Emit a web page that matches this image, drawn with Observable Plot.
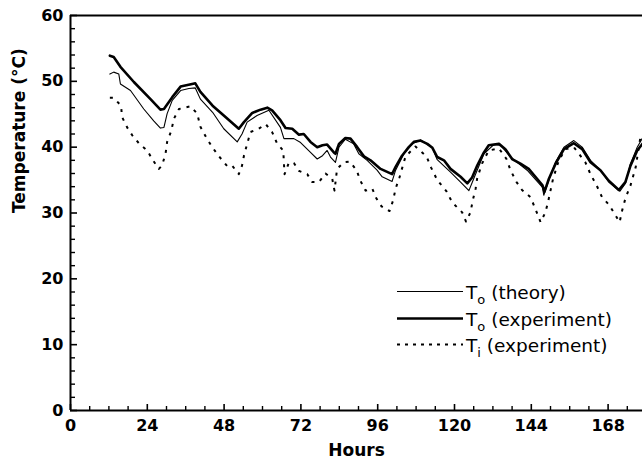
<!DOCTYPE html>
<html>
<head>
<meta charset="utf-8">
<script src="https://cdn.jsdelivr.net/npm/d3@7"></script>
<script src="https://cdn.jsdelivr.net/npm/@observablehq/plot@0.6"></script>
<style>
  html, body { margin: 0; padding: 0; background: #fff; }
  #chart { position: relative; width: 642px; height: 462px; }
</style>
</head>
<body>
<div id="chart"></div>
<script>
// ---- Data ----
const hoursTheory = [12.3,13.5,15.1,15.6,18.75,22.9,26,28.1,29.2,30.2,31.8,34.4,37,39,40.6,44.4,47.9,52.1,53.6,55.2,58.3,62,65.6,66.7,69.8,71.9,75,77.1,78.75,80.2,81.25,82.8,83.9,85.9,88.5,90.1,92.7,95.8,97.4,100.5,101.6,104.2,106.8,109.4,113.1,114.6,118.75,121.9,124.5,126,129.2,132.3,134.4,137.5,142.7,147.5,147.9,149.5,151.6,154.2,157.3,159.9,162.5,165.6,168.2,171.7,173.4,175,177.1,178.75];
const tempTheory  = [51.1,51.4,51.1,49.6,48.6,45.8,44.0,42.9,43.0,45.1,47.1,48.6,48.9,49.0,47.3,45.3,42.8,40.8,42.0,43.8,44.8,45.6,43.0,41.3,41.3,40.7,39.2,38.2,38.7,39.5,38.5,37.7,40.0,41.2,40.5,39.0,38.0,36.5,35.5,34.8,36.5,39.0,40.5,41.1,39.9,38.1,36.2,34.7,33.4,35.2,39.0,40.4,40.3,38.5,36.5,33.9,32.7,35.0,37.8,40.0,41.0,40.0,38.0,36.5,34.7,33.3,34.5,37.5,40.0,41.4];

const hoursOuterExp = [12.3,13.5,15.6,19.8,25,28.1,29.2,31.8,34.4,38,39,40.6,44.4,47.9,52.6,54.2,56.8,59.4,61.5,63,65.6,67.2,69.3,71.4,72.9,75,77.1,78.75,80.2,82.3,82.8,83.9,85.9,87.5,89.6,91.7,93.75,96.9,100.5,101.6,103.6,105.7,107.3,109.4,111.5,113.1,114.6,116.7,118.75,121.9,124,125.5,127.1,129.2,130.7,133.9,135.9,138,140.6,143.2,145.8,147.5,148.1,149.5,151.6,154.2,157.3,159.9,162.5,165.6,168.2,171.35,173.4,175,177.1,178.75];
const tempOuterExp  = [53.9,53.7,52.2,49.9,47.3,45.7,45.8,47.6,49.2,49.6,49.7,48.4,46.3,44.8,42.8,43.8,45.2,45.7,46.0,45.6,44.1,42.9,42.8,41.9,42.0,40.8,40.0,40.3,40.4,39.2,39.0,40.5,41.4,41.3,40.0,38.6,38.0,36.7,35.9,37.0,38.7,40.0,40.8,41.0,40.5,39.9,38.5,38.0,36.7,35.5,34.5,35.4,37.2,39.2,40.3,40.5,39.7,38.2,37.5,36.7,35.2,34.2,33.2,35.2,37.5,39.7,40.6,39.7,37.7,36.5,34.9,33.5,34.7,37.2,39.5,40.5];

const hoursInnerExp = [12.3,13.5,15.8,16.1,17.7,19.3,21.7,24,25.5,27.6,28.6,29.7,30.2,31.5,32.3,33.9,37.5,39.6,40.6,42.5,44.3,46.4,49,50.5,52.6,53.6,54.2,55.2,56.25,58.8,61,63,64.6,66.5,66.7,66.9,68.2,69.8,71.4,74,75.5,77.6,78.75,79.7,81.8,82.5,83.3,85.4,87.3,89.4,90.6,92.2,94.3,95.6,97.2,99.7,100.8,101.6,102.8,104.7,107.8,111.25,112.7,114.6,117.5,119.3,122.4,123.6,125,125.7,126.6,127.1,128.6,130.7,133.9,136.25,137.5,139.4,141.1,143.75,145.3,146.9,148.4,149.2,150,150.8,152.6,154.7,157.3,160.9,162.5,164.4,166.1,168.2,170,171.6,172.4,173.4,175,176.6,178.1];
const tempInnerExp  = [47.5,47.5,46.3,44.6,43.0,41.8,40.4,39.5,38.2,36.7,37.2,39.0,40.8,42.5,44.3,45.8,46.2,45.1,43.1,41.4,40.0,38.6,37.1,37.2,35.9,37.2,38.7,40.5,42.3,42.8,43.5,42.3,40.5,39.5,37.5,35.9,37.6,37.6,36.4,35.9,34.7,34.7,35.4,36.0,35.2,33.4,36.7,37.7,37.8,36.5,34.9,33.4,33.7,32.2,31.0,30.3,31.9,33.7,35.4,38.6,40.1,38.6,36.9,35.0,33.3,31.6,30.1,28.7,30.1,31.9,33.7,35.3,37.5,39.5,39.8,38.2,36.5,34.7,33.5,32.4,30.6,28.6,30.1,31.6,33.4,35.2,38.0,39.7,40.0,37.7,35.9,34.2,32.4,31.3,29.9,28.6,30.4,32.2,34.2,36.9,41.5];

const xMajorTicks = [0, 24, 48, 72, 96, 120, 144, 168];
const xMinorTicks = [6, 12, 18, 30, 36, 42, 54, 60, 66, 78, 84, 90, 102, 108, 114, 126, 132, 138, 150, 156, 162, 174];
const yMajorTicks = [0, 10, 20, 30, 40, 50, 60];
const yMinorTicks = [2,4,6,8,12,14,16,18,22,24,26,28,32,34,36,38,42,44,46,48,52,54,56,58];

const xLabel = "Hours";
const yLabel = "Temperature (°C)";
const legendItems = [
  {main: "T", sub: "o", rest: " (theory)", style: "thin"},
  {main: "T", sub: "o", rest: " (experiment)", style: "thick"},
  {main: "T", sub: "i", rest: " (experiment)", style: "dotted"}
];

// ---- Build tables ----
const theory = hoursTheory.map((h, i) => ({h, t: tempTheory[i]}));
const outer = hoursOuterExp.map((h, i) => ({h, t: tempOuterExp[i]}));
const inner = hoursInnerExp.map((h, i) => ({h, t: tempInnerExp[i]}));

const W = 642, H = 462;
const mTop = 15, mLeft = 70, mRight = 0, mBottom = 52;
const frameW = W - mLeft - mRight, frameH = H - mTop - mBottom;
const font = "DejaVu Sans, Liberation Sans, sans-serif";
const dotted = "3,6";

const plot = Plot.plot({
  width: W, height: H,
  marginTop: mTop, marginLeft: mLeft, marginRight: mRight, marginBottom: mBottom,
  x: {domain: [0, 178.75], axis: null},
  y: {domain: [0, 60], axis: null},
  style: {fontFamily: font, background: "white", overflow: "visible", color: "black"},
  marks: [
    // data lines
    Plot.line(inner, {x: "h", y: "t", stroke: "black", strokeWidth: 2, strokeDasharray: dotted, strokeLinecap: "butt"}),
    Plot.line(theory, {x: "h", y: "t", stroke: "black", strokeWidth: 1.1}),
    Plot.line(outer, {x: "h", y: "t", stroke: "black", strokeWidth: 2.6, strokeLinejoin: "round"}),
    // frame lines
    Plot.ruleY([0], {y: d => d, stroke: "black", strokeWidth: 2}),
    Plot.ruleY([60], {y: d => d, stroke: "black", strokeWidth: 2}),
    Plot.ruleX([0], {x: d => d, stroke: "black", strokeWidth: 2}),
    // inward ticks
    Plot.ruleX(xMajorTicks, {x: d => d, insetTop: frameH - 6, stroke: "black", strokeWidth: 1.6}),
    Plot.ruleX(xMinorTicks, {x: d => d, insetTop: frameH - 4, stroke: "black", strokeWidth: 1.4}),
    Plot.ruleY(yMajorTicks, {y: d => d, insetRight: frameW - 7, stroke: "black", strokeWidth: 1.6}),
    Plot.ruleY(yMinorTicks, {y: d => d, insetRight: frameW - 5, stroke: "black", strokeWidth: 1.4}),
    // tick labels
    Plot.text(xMajorTicks, {x: d => d, text: d => String(d), frameAnchor: "bottom", lineAnchor: "top", dy: 9, fontSize: 16, fontWeight: "bold", fill: "black"}),
    Plot.text(yMajorTicks, {y: d => d, text: d => String(d), frameAnchor: "left", textAnchor: "end", dx: -7, fontSize: 16, fontWeight: "bold", fill: "black"}),
    // axis labels
    Plot.text([xLabel], {text: d => d, frameAnchor: "bottom", lineAnchor: "middle", dy: 40, fontSize: 17, fontWeight: "bold", fill: "black"}),
    Plot.text([yLabel], {text: d => d, frameAnchor: "left", rotate: -90, lineAnchor: "middle", dx: -51, fontSize: 17, fontWeight: "bold", fill: "black"})
  ]
});

document.getElementById("chart").appendChild(plot);

// ---- Legend (inside plot area, lower right) ----
const svg = d3.select(plot);
const lg = svg.append("g")
  .attr("font-family", font)
  .attr("font-size", 18.5)
  .attr("text-anchor", "start")
  .attr("fill", "black");
const rowY = [291.5, 318.5, 344.5];
legendItems.forEach((it, i) => {
  const y = rowY[i];
  const line = lg.append("line").attr("x1", 397).attr("x2", 463).attr("y1", y).attr("y2", y).attr("stroke", "black");
  if (it.style === "thin") line.attr("stroke-width", 1.1);
  if (it.style === "thick") line.attr("stroke-width", 2.6);
  if (it.style === "dotted") line.attr("stroke-width", 2).attr("stroke-dasharray", "3,5");
  const t = lg.append("text").attr("x", 466).attr("y", y + 7.5).attr("text-anchor", "start");
  t.append("tspan").text(it.main);
  t.append("tspan").attr("font-size", 13).attr("dy", 5).text(it.sub);
  t.append("tspan").attr("dy", -5).text(it.rest);
});
</script>
</body>
</html>
